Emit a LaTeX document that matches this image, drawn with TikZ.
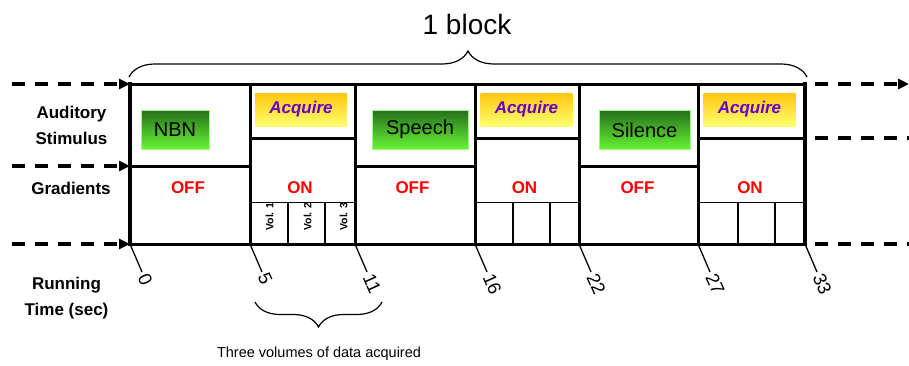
\documentclass[tikz,border=0pt]{standalone}
\usepackage{fontspec}
\setmainfont{Liberation Sans}
\usetikzlibrary{arrows.meta,positioning,decorations.pathreplacing}
\definecolor{stimdark}{RGB}{38,112,28}
\definecolor{stimlight}{RGB}{102,245,51}
\definecolor{acqgold}{RGB}{255,198,16}
\definecolor{acqpale}{RGB}{255,255,110}
\definecolor{acqtext}{RGB}{102,0,204}

\begin{document}
\begin{tikzpicture}[x=1pt, y=-1pt,
  grid/.style={line width=3pt, line cap=rect},
  frame/.style={line width=4pt, line cap=rect},
  thingrid/.style={line width=1pt},
  dashline/.style={line width=4pt, dash pattern=on 13pt off 10pt},
  arr/.style={-{Triangle[length=11pt,width=10pt]}},
  stim/.style={draw=stimlight!60!white, line width=0.6pt, top color=stimdark,
               bottom color=stimlight, minimum height=39pt, inner sep=0pt,
               font=\fontsize{20}{24}\selectfont},
  acq/.style={top color=acqgold, bottom color=acqpale, minimum width=92pt,
              minimum height=33pt, inner sep=0pt, text=acqtext,
              font=\fontsize{17}{20}\selectfont\bfseries\itshape},
  rowlabel/.style={align=center, font=\fontsize{17}{26}\selectfont\bfseries},
  state/.style={text=red, font=\fontsize{17}{20}\selectfont\bfseries},
  vol/.style={rotate=90, inner sep=0pt, font=\fontsize{10.5}{12}\selectfont\bfseries},
  tick/.style={line width=1.3pt},
  ticklabel/.style={anchor=west, rotate=-66, inner sep=2pt, font=\fontsize{18.5}{20}\selectfont},
  brace/.style={decorate, decoration={brace, amplitude=26pt}, line width=1.2pt}
]
\useasboundingbox (0,0) rectangle (909,365);

% column corners
\foreach \n/\x in {0/130,1/250,2/355,3/475,4/579,5/698,6/805}{
  \coordinate (t\n) at (\x,84);
  \coordinate (a\n) at (\x,138);
  \coordinate (m\n) at (\x,166);
  \coordinate (v\n) at (\x,202);
  \coordinate (b\n) at (\x,244);
}
\coordinate (l0) at (12,84);  \coordinate (l1) at (12,166);  \coordinate (l2) at (12,244);
\coordinate (r0) at (909,84); \coordinate (r1) at (909,138); \coordinate (r2) at (909,244);

% timeline grid
\draw[grid] (t0) -- (t6);
\draw[grid] (b0) -- (b6);
\foreach \n in {1,...,5} \draw[grid] (t\n) -- (b\n);
\draw[frame] (t0) -- (b0);
\draw[frame] (t6) -- (b6);
\draw[grid] (m0) -- (m1); \draw[grid] (m2) -- (m3); \draw[grid] (m4) -- (m5);
\draw[grid] (a1) -- (a2); \draw[grid] (a3) -- (a4); \draw[grid] (a5) -- (a6);
\draw[thingrid] (v1) -- (v2); \draw[thingrid] (v3) -- (v4); \draw[thingrid] (v5) -- (v6);
\foreach \x in {288,325,513,550,738,775} \draw[tick] (\x,202) -- (\x,244);

% dashed lead-in / lead-out
\draw[dashline, arr] (l0) -- (t0);
\draw[dashline, arr] (l1) -- (m0);
\draw[dashline, arr] (l2) -- (b0);
\draw[dashline, dash phase=13pt, arr] (t6) -- (r0);
\draw[dashline, dash phase=13pt] (a6) -- (r1);
\draw[dashline, dash phase=13pt] (b6) -- (r2);

% row labels
\node[rowlabel] (audlabel) at (71.5,125.5) {Auditory\\Stimulus};
\node[rowlabel] (gradlabel) at (71,188) {Gradients};
\node[rowlabel] (timelabel) at (66.5,298) {Running\\Time (sec)};

% stimuli and acquisitions
\node[stim, minimum width=68pt] (nbn) at (175,129.5) {NBN};
\node[stim, minimum width=96pt] (speech) at (420,129.5) {Speech};
\node[stim, minimum width=91pt] (silence) at (644.5,130) {Silence};
\node[acq] (acq1) at (301,109.5) {Acquire};
\node[acq] (acq2) at (526.5,109.5) {Acquire};
\node[acq] (acq3) at (749.5,109.5) {Acquire};

% gradient state
\node[state] (off1) at (188,188) {OFF};
\node[state] (on1) at (300,188) {ON};
\node[state] (off2) at (412.5,188) {OFF};
\node[state] (on2) at (524.5,188) {ON};
\node[state] (off3) at (637.5,188) {OFF};
\node[state] (on3) at (750,188) {ON};

\node[vol] (vol1) at (269.5,216.5) {Vol. 1};
\node[vol] (vol2) at (307.5,216.5) {Vol. 2};
\node[vol] (vol3) at (343.5,216.5) {Vol. 3};

% time axis
\foreach \n/\s in {0/0,1/5,2/11,3/16,4/22,5/27,6/33}
  \draw[tick] (b\n) -- ++(12,28) node[ticklabel] (sec\n) {\s};

% braces
\coordinate (blockl) at (129,77);
\coordinate (blockr) at (807,77);
\draw[brace] (blockl) -- (blockr);
\node[font=\fontsize{28}{30}\selectfont] (blocklabel) at (467,24) {1 block};

\coordinate (voll) at (255,302);
\coordinate (volr) at (382,302);
\draw[brace, decoration={mirror, amplitude=25pt}] (voll) -- (volr);
\node[font=\fontsize{14.5}{16}\selectfont] (vollabel) at (319,354) {Three volumes of data acquired};
\end{tikzpicture}
\end{document}
